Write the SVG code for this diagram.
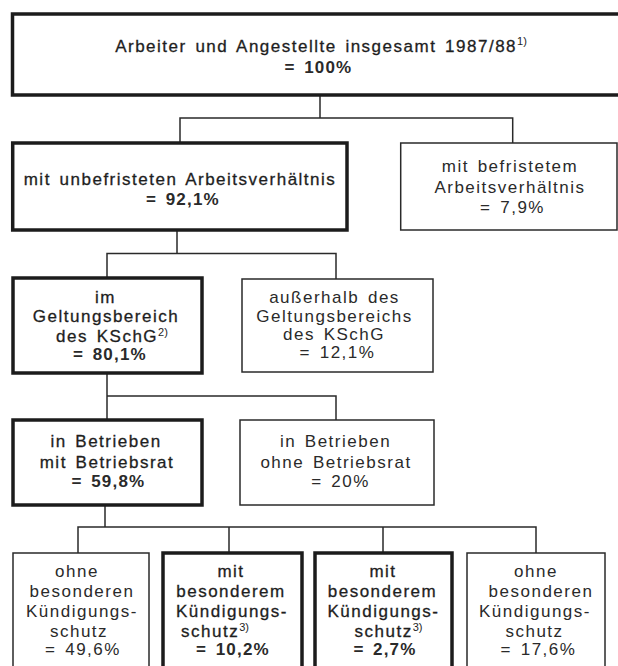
<svg xmlns="http://www.w3.org/2000/svg" width="618" height="666" viewBox="0 0 618 666">
<style>
.thick{fill:#fff;stroke:#1c1c1c;stroke-width:3.5}
.thin{fill:#fff;stroke:#2a2a2a;stroke-width:1.5}
.conn{fill:none;stroke:#2a2a2a;stroke-width:1.5}
text{font-family:"Liberation Sans",Arial,sans-serif;font-size:17px;letter-spacing:1.5px;word-spacing:2.5px;fill:#2a2a2a;text-anchor:middle}
.m{fill:#1e1e1e;stroke:#1e1e1e;stroke-width:0.3}
.b{font-weight:bold;letter-spacing:1.2px}
.s{font-size:11px;letter-spacing:0;stroke:none;font-weight:normal}
</style>
<rect width="618" height="666" fill="#fff"/>
<g id="connectors">
<path class="conn" d="M320 95V118M180 143V118H512.7V143"/>
<path class="conn" d="M177 230V253.5M107 278V253.5H336V279"/>
<path class="conn" d="M107 373V396M107 420V396H336V420"/>
<path class="conn" d="M105 505V527M78 553V527H536V553M229 527V553M383 527V553"/>
</g>
<g id="n_total">
<rect class="thick" x="12.5" y="14" width="610" height="81"/>
<text class="m" x="321" y="52">Arbeiter und Angestellte insgesamt 1987/88<tspan class="s" dy="-7">1)</tspan></text>
<text class="b" x="318.5" y="73">= 100%</text>
</g>
<g id="n_unbefristet">
<rect class="thick" x="12.7" y="143" width="334.3" height="87"/>
<text class="m" x="180" y="185">mit unbefristeten Arbeitsverhältnis</text>
<text class="b" x="183" y="205">= 92,1%</text>
</g>
<g id="n_befristet">
<rect class="thin" x="400.7" y="143" width="216.3" height="87"/>
<text x="510" y="172">mit befristetem</text>
<text x="510" y="193">Arbeitsverhältnis</text>
<text x="512.5" y="213">= 7,9%</text>
</g>
<g id="n_kschg">
<rect class="thick" x="13" y="278" width="189" height="95"/>
<text class="m" x="105.5" y="303">im</text>
<text class="m" x="106" y="322">Geltungsbereich</text>
<text class="m" x="112" y="342">des KSchG<tspan class="s" dy="-6">2)</tspan></text>
<text class="b" x="110" y="360">= 80,1%</text>
</g>
<g id="n_ausserhalb">
<rect class="thin" x="242" y="279" width="191" height="93"/>
<text x="334.5" y="303">außerhalb des</text>
<text x="334.5" y="322">Geltungsbereichs</text>
<text x="334" y="340">des KSchG</text>
<text x="337.5" y="358">= 12,1%</text>
</g>
<g id="n_mit_br">
<rect class="thick" x="13" y="420" width="189" height="85"/>
<text class="m" x="106" y="447">in Betrieben</text>
<text class="m" x="107" y="468">mit Betriebsrat</text>
<text class="b" x="108.5" y="487">= 59,8%</text>
</g>
<g id="n_ohne_br">
<rect class="thin" x="240" y="420" width="194" height="85"/>
<text x="335.5" y="447">in Betrieben</text>
<text x="336" y="468">ohne Betriebsrat</text>
<text x="340.5" y="487">= 20%</text>
</g>
<g id="n_ohne1">
<rect class="thin" x="13" y="553" width="136" height="116"/>
<text x="77" y="577">ohne</text>
<text x="82" y="597">besonderen</text>
<text x="82" y="617">Kündigungs-</text>
<text x="79" y="637">schutz</text>
<text x="83" y="655">= 49,6%</text>
</g>
<g id="n_mit1">
<rect class="thick" x="163" y="553" width="139" height="116"/>
<text class="m" x="231" y="577">mit</text>
<text class="m" x="231" y="597">besonderem</text>
<text class="m" x="232" y="617">Kündigungs-</text>
<text class="m" x="215" y="637">schutz<tspan class="s" dy="-6">3)</tspan></text>
<text class="b" x="233" y="655">= 10,2%</text>
</g>
<g id="n_mit2">
<rect class="thick" x="315" y="553" width="137" height="116"/>
<text class="m" x="383" y="577">mit</text>
<text class="m" x="382.5" y="597">besonderem</text>
<text class="m" x="383.5" y="617">Kündigungs-</text>
<text class="m" x="388.5" y="637">schutz<tspan class="s" dy="-6">3)</tspan></text>
<text class="b" x="385" y="655">= 2,7%</text>
</g>
<g id="n_ohne2">
<rect class="thin" x="467" y="553" width="138" height="116"/>
<text x="536" y="577">ohne</text>
<text x="541" y="597">besonderen</text>
<text x="535" y="617">Kündigungs-</text>
<text x="534.5" y="637">schutz</text>
<text x="538.5" y="655">= 17,6%</text>
</g>
</svg>
